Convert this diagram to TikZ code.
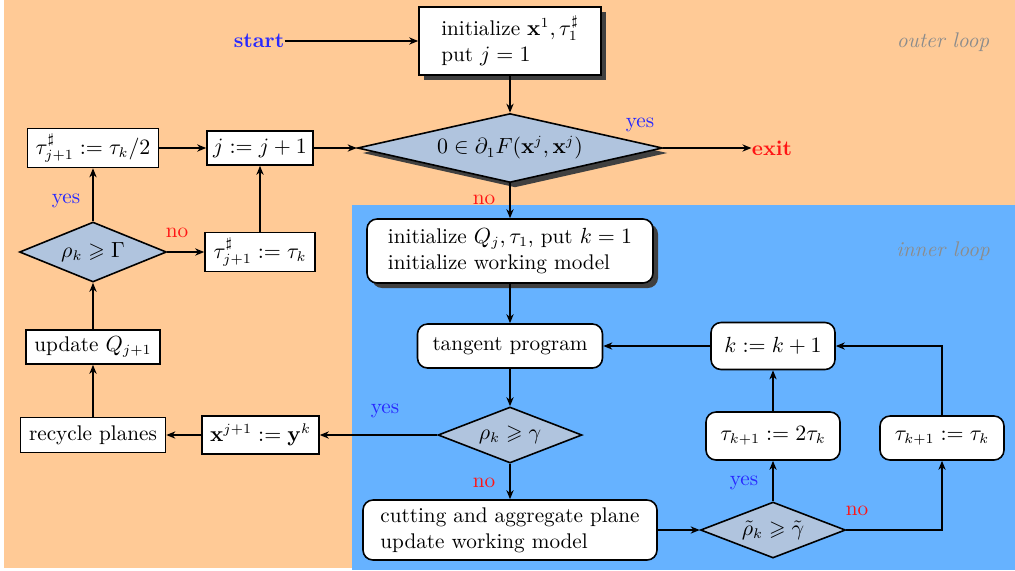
\documentclass[tikz,border=0pt]{standalone}
\usepackage{amsmath,amssymb}
\usetikzlibrary{shapes.geometric,shadows,arrows.meta}
\definecolor{outerbg}{RGB}{255,202,150}
\definecolor{innerbg}{RGB}{102,178,255}
\definecolor{testfill}{RGB}{176,196,222}
\definecolor{shadowgray}{RGB}{64,64,64}
\definecolor{yesblue}{RGB}{40,40,255}
\definecolor{nored}{RGB}{255,20,20}
\tikzset{
  every node/.style={font=\fontsize{10.6}{13}\selectfont, inner sep=0pt},
  conn/.style={line width=0.8pt, -{Stealth[length=4.5pt,width=3.6pt,inset=1.4pt]}},
  sharpbox/.style={draw, line width=0.8pt, fill=white, align=left},
  roundbox/.style={sharpbox, rounded corners=5pt},
  test/.style={draw, line width=0.8pt, fill=testfill, shape=diamond, inner sep=0pt},
  shade/.style={drop shadow={shadow xshift=2.5pt, shadow yshift=-2.5pt, fill=shadowgray, opacity=1}},
  yeslbl/.style={text=yesblue},
  nolbl/.style={text=nored},
  looplbl/.style={text=black!45, font=\fontsize{10.6}{13}\selectfont\itshape},
}
\begin{document}
\begin{tikzpicture}[x=0.5pt, y=-0.5pt]
  % page and the two loop regions
  \useasboundingbox (0,0) rectangle (1015,570);
  \fill[white] (0,0) rectangle (1015,570);
  \fill[outerbg] (4,0) rectangle (1015,568);
  \fill[innerbg] (352,205) rectangle (1015,570);
  \node[looplbl] (outerlbl) at (943,42) {outer loop};
  \node[looplbl] (innerlbl) at (943,251) {inner loop};

  % outer loop
  \node[text=yesblue, font=\fontsize{10.6}{13}\selectfont\bfseries] (start) at (259,41) {start};
  \node[sharpbox, shade, minimum width=91pt, minimum height=34pt] (init) at (510,41)
    {initialize $\mathbf{x}^1, \tau_1^\sharp$\\put $j=1$};
  \node[test, shade, aspect=4.42, minimum width=152.5pt, minimum height=34.5pt] (stop) at (510,148)
    {$0\in\partial_1 F(\mathbf{x}^j,\mathbf{x}^j)$};
  \node[text=nored, font=\fontsize{10.6}{13}\selectfont\bfseries] (exit) at (772,148) {exit};
  \node[sharpbox, minimum width=53pt, minimum height=17pt] (jinc) at (260,148) {$j:=j+1$};
  \node[sharpbox, minimum width=65.5pt, minimum height=19.5pt] (halve) at (93,148) {$\tau_{j+1}^\sharp:=\tau_k/2$};
  \node[sharpbox, minimum width=55pt, minimum height=19.5pt] (keep) at (260,252) {$\tau_{j+1}^\sharp:=\tau_k$};
  \node[test, aspect=2.45, minimum width=73.5pt, minimum height=30pt] (bigG) at (93,252) {$\rho_k\geqslant\Gamma$};
  \node[sharpbox, minimum width=67pt, minimum height=17pt] (updQ) at (93,347) {update $Q_{j+1}$};
  \node[sharpbox, minimum width=72.5pt, minimum height=17.5pt] (recyc) at (93,435) {recycle planes};
  \node[sharpbox, minimum width=58.5pt, minimum height=19pt] (newx) at (260.5,435) {$\mathbf{x}^{j+1}:=\mathbf{y}^k$};

  % inner loop
  \node[roundbox, shade, minimum width=143pt, minimum height=32pt] (initin) at (510,251)
    {initialize $Q_j,\tau_1$, put $k=1$\\initialize working model};
  \node[roundbox, minimum width=92.5pt, minimum height=22pt] (tangent) at (510,346) {tangent program};
  \node[test, aspect=2.57, minimum width=72pt, minimum height=28pt] (smallg) at (510,435) {$\rho_k\geqslant\gamma$};
  \node[roundbox, minimum width=147pt, minimum height=30pt] (cut) at (510,530)
    {cutting and aggregate plane\\update working model};
  \node[test, aspect=2.59, minimum width=72.5pt, minimum height=28pt] (tildeg) at (773,530) {$\tilde\rho_k\geqslant\tilde\gamma$};
  \node[roundbox, minimum width=67pt, minimum height=24pt] (double) at (773,436) {$\tau_{k+1}:=2\tau_k$};
  \node[roundbox, minimum width=62pt, minimum height=22pt] (same) at (942,438) {$\tau_{k+1}:=\tau_k$};
  \node[roundbox, minimum width=62pt, minimum height=23.5pt] (kinc) at (773,346) {$k:=k+1$};

  % branch labels
  \node[yeslbl] (yes1) at (640,125) {yes};
  \node[nolbl] (no1) at (484,200) {no};
  \node[yeslbl] (yes2) at (66,201) {yes};
  \node[nolbl] (no2) at (177,233) {no};
  \node[yeslbl] (yes3) at (385,411) {yes};
  \node[nolbl] (no3) at (484,483) {no};
  \node[yeslbl] (yes4) at (744,483) {yes};
  \node[nolbl] (no4) at (857,511) {no};

  % connectors of the outer loop
  \draw[conn] (start.east) -- (init.west);
  \draw[conn] (init.south) -- (stop.north);
  \draw[conn] (stop.east) -- (exit.west);
  \draw[conn] (stop.south) -- (initin.north);
  \draw[conn] (jinc.east) -- (stop.west);
  \draw[conn] (halve.east) -- (jinc.west);
  \draw[conn] (keep.north) -- (jinc.south);
  \draw[conn] (bigG.north) -- (halve.south);
  \draw[conn] (bigG.east) -- (keep.west);
  \draw[conn] (updQ.north) -- (bigG.south);
  \draw[conn] (recyc.north) -- (updQ.south);
  \draw[conn] (newx.west) -- (recyc.east);
  \draw[conn] (smallg.west) -- (newx.east);

  % connectors of the inner loop
  \draw[conn] (initin.south) -- (tangent.north);
  \draw[conn] (tangent.south) -- (smallg.north);
  \draw[conn] (smallg.south) -- (cut.north);
  \draw[conn] (cut.east) -- (tildeg.west);
  \draw[conn] (tildeg.north) -- (double.south);
  \draw[conn] (double.north) -- (kinc.south);
  \draw[conn] (tildeg.east) -| (same.south);
  \draw[conn] (same.north) |- (kinc.east);
  \draw[conn] (kinc.west) -- (tangent.east);
\end{tikzpicture}
\end{document}
